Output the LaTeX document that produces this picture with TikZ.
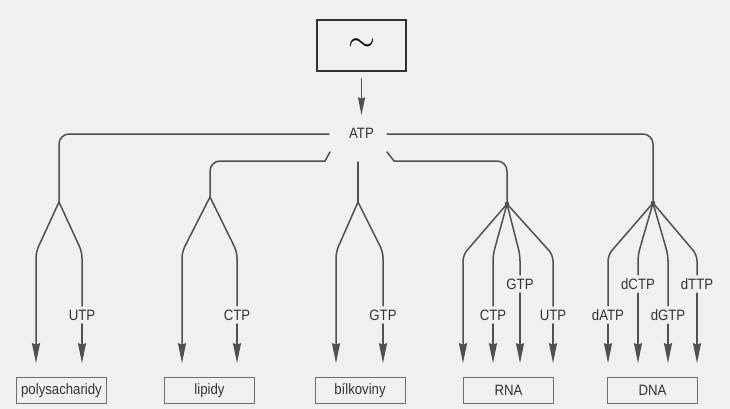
\documentclass[tikz,border=0pt]{standalone}
\usepackage{fontspec}
\setmainfont{Liberation Sans}[FakeStretch=0.88]
\usetikzlibrary{arrows.meta, positioning}
\definecolor{inkgray}{RGB}{80,80,80}
\definecolor{inkdark}{RGB}{50,50,50}
\definecolor{boxgray}{RGB}{110,110,110}
\definecolor{paper}{RGB}{240,240,240}

\begin{document}
\begin{tikzpicture}[x=1pt, y=-1pt, font=\fontsize{15}{18}\selectfont,
    line/.style={draw=inkgray, line width=1.5pt, line cap=round},
    arr/.style={line, -{Stealth[length=20pt, width=8pt, inset=1.5pt]}, shorten >=14pt},
    target/.style={rectangle, draw=boxgray, line width=0.7pt, minimum width=90pt, minimum height=26pt, text=inkdark},
    nuc/.style={inner sep=3.5pt, text=inkdark}]
    \fill[paper] (0,0) rectangle (730,409);

    % energy source and ATP
    \node[draw=inkdark, line width=1.3pt, minimum width=89pt, minimum height=51pt] (wave) at (361.5,45.5) {\resizebox{27pt}{!}{$\sim$}};
    \node[text=inkdark] (atp) at (361.5,133) {ATP};
    \draw[line, -{Stealth[length=18pt, width=7pt, inset=1.5pt]}, shorten <=7pt, shorten >=9pt] (wave) -- (atp);

    % products
    \node[target] (poly) at (61.5,390.5) {polysacharidy};
    \node[target] (lip) at (209.5,390.5) {lipidy};
    \node[target] (bilk) at (360,390.5) {bílkoviny};
    \node[target] (rna) at (508.5,390.5) {RNA};
    \node[target] (dna) at (652.5,390.5) {DNA};

    % branch points
    \coordinate (aL) at (329,134);
    \coordinate (aR) at (387,134);
    \coordinate (sL) at (330,152);
    \coordinate (kL) at (325,161);
    \coordinate (sM) at (358,162);
    \coordinate (sR) at (387,152);
    \coordinate (kR) at (394,161);
    \coordinate (b1) at (59,202);
    \coordinate (b2) at (210,197);
    \coordinate (b3) at (358,202);
    \coordinate (b4) at (507,204);
    \coordinate (b5) at (653,203);

    \draw[line, rounded corners=10pt] (aL) -| (b1);
    \draw[line] (sL) -- (kL);
    \draw[line, rounded corners=10pt] (kL) -| (b2);
    \draw[line] (sM) -- (b3);
    \draw[line] (sR) -- (kR);
    \draw[line, rounded corners=10pt] (kR) -| (b4);
    \draw[line, rounded corners=10pt] (aR) -| (b5);
    \fill[inkgray] (b4) circle (2.3pt);
    \fill[inkgray] (b5) circle (2.3pt);

    % nucleotide labels
    \node[nuc] (utp1) at (82,315) {UTP};
    \node[nuc] (ctp1) at (237,315) {CTP};
    \node[nuc] (gtp1) at (383,315) {GTP};
    \node[nuc] (ctp2) at (493,315) {CTP};
    \node[nuc] (gtp2) at (520,284) {GTP};
    \node[nuc] (utp2) at (553,315) {UTP};
    \node[nuc] (datp) at (608,315) {dATP};
    \node[nuc] (dctp) at (638,284) {dCTP};
    \node[nuc] (dgtp) at (668,315) {dGTP};
    \node[nuc] (dttp) at (697,284) {dTTP};

    % polysacharidy
    \draw[arr, rounded corners=6pt] (b1) -- (36,252) -- ([xshift=-25.5pt]poly.north);
    \draw[line, rounded corners=6pt] (b1) -- (82,252) -- (utp1.north);
    \draw[arr] (utp1.south) -- ([xshift=20.5pt]poly.north);

    % lipidy
    \draw[arr, rounded corners=6pt] (b2) -- (182,252) -- ([xshift=-27.5pt]lip.north);
    \draw[line, rounded corners=6pt] (b2) -- (237,252) -- (ctp1.north);
    \draw[arr] (ctp1.south) -- ([xshift=27.5pt]lip.north);

    % bilkoviny
    \draw[arr, rounded corners=6pt] (b3) -- (336,252) -- ([xshift=-24pt]bilk.north);
    \draw[line, rounded corners=6pt] (b3) -- (383,252) -- (gtp1.north);
    \draw[arr] (gtp1.south) -- ([xshift=23pt]bilk.north);

    % RNA
    \draw[arr, rounded corners=6pt] (b4) -- (463,255) -- ([xshift=-45.5pt]rna.north);
    \draw[line, rounded corners=6pt] (b4) -- (493,255) -- (ctp2.north);
    \draw[arr] (ctp2.south) -- ([xshift=-15.5pt]rna.north);
    \draw[line, rounded corners=6pt] (b4) -- (520,255) -- (gtp2.north);
    \draw[arr] (gtp2.south) -- ([xshift=11.5pt]rna.north);
    \draw[line, rounded corners=6pt] (b4) -- (553,255) -- (utp2.north);
    \draw[arr] (utp2.south) -- ([xshift=44.5pt]rna.north);

    % DNA
    \draw[line, rounded corners=6pt] (b5) -- (608,255) -- (datp.north);
    \draw[arr] (datp.south) -- ([xshift=-44.5pt]dna.north);
    \draw[line, rounded corners=6pt] (b5) -- (638,255) -- (dctp.north);
    \draw[arr] (dctp.south) -- ([xshift=-14.5pt]dna.north);
    \draw[line, rounded corners=6pt] (b5) -- (668,255) -- (dgtp.north);
    \draw[arr] (dgtp.south) -- ([xshift=15.5pt]dna.north);
    \draw[line, rounded corners=6pt] (b5) -- (697,255) -- (dttp.north);
    \draw[arr] (dttp.south) -- ([xshift=44.5pt]dna.north);
\end{tikzpicture}
\end{document}
